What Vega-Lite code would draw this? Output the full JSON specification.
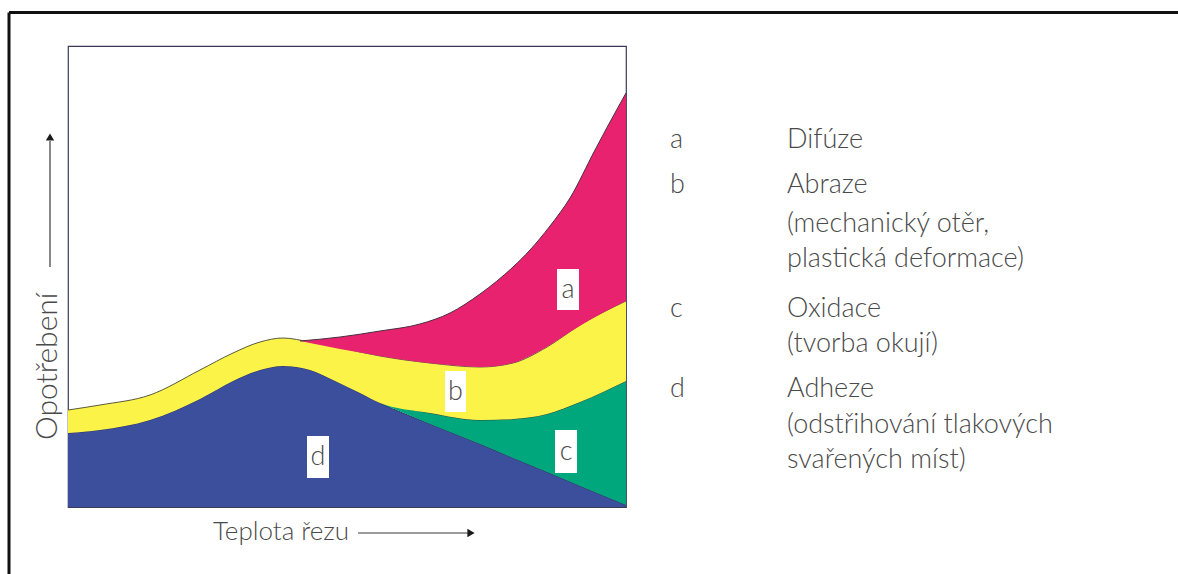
{
  "$schema": "https://vega.github.io/schema/vega-lite/v6.json",
  "width": 558,
  "height": 461,
  "autosize": {"type": "none"},
  "padding": {"left": 68, "top": 46, "right": 552, "bottom": 67},
  "background": "white",
  "config": {"view": {"stroke": "#3a3a55", "strokeWidth": 1.2}},
  "datasets": {
    "d": [
      {"x": 0, "lo": 0, "hi": 74}, {"x": 32, "lo": 0, "hi": 77}, {"x": 82, "lo": 0, "hi": 87},
      {"x": 132, "lo": 0, "hi": 108}, {"x": 165, "lo": 0, "hi": 126}, {"x": 192, "lo": 0, "hi": 137},
      {"x": 215, "lo": 0, "hi": 141}, {"x": 242, "lo": 0, "hi": 137}, {"x": 265, "lo": 0, "hi": 127},
      {"x": 292, "lo": 0, "hi": 114}, {"x": 312, "lo": 0, "hi": 104}, {"x": 362, "lo": 0, "hi": 83},
      {"x": 412, "lo": 0, "hi": 63}, {"x": 445, "lo": 0, "hi": 49}, {"x": 479, "lo": 0, "hi": 35},
      {"x": 512, "lo": 0, "hi": 21}, {"x": 558, "lo": 0, "hi": 2}
    ],
    "c": [
      {"x": 312, "lo": 104, "hi": 104}, {"x": 362, "lo": 83, "hi": 94}, {"x": 412, "lo": 63, "hi": 87},
      {"x": 445, "lo": 49, "hi": 88}, {"x": 479, "lo": 35, "hi": 93}, {"x": 512, "lo": 21, "hi": 105},
      {"x": 558, "lo": 2, "hi": 126}
    ],
    "b": [
      {"x": 0, "lo": 74, "hi": 97}, {"x": 32, "lo": 77, "hi": 102}, {"x": 82, "lo": 87, "hi": 112},
      {"x": 132, "lo": 108, "hi": 137}, {"x": 165, "lo": 126, "hi": 154}, {"x": 192, "lo": 137, "hi": 165},
      {"x": 215, "lo": 141, "hi": 169}, {"x": 242, "lo": 137, "hi": 165}, {"x": 265, "lo": 127, "hi": 161},
      {"x": 292, "lo": 114, "hi": 155}, {"x": 312, "lo": 104, "hi": 151}, {"x": 362, "lo": 94, "hi": 144},
      {"x": 412, "lo": 87, "hi": 140}, {"x": 445, "lo": 88, "hi": 144}, {"x": 479, "lo": 93, "hi": 160},
      {"x": 512, "lo": 105, "hi": 182}, {"x": 558, "lo": 126, "hi": 206}
    ],
    "a": [
      {"x": 232, "lo": 166, "hi": 166}, {"x": 272, "lo": 158, "hi": 170}, {"x": 312, "lo": 151, "hi": 176},
      {"x": 352, "lo": 145, "hi": 183}, {"x": 382, "lo": 142, "hi": 194}, {"x": 412, "lo": 140, "hi": 213},
      {"x": 445, "lo": 144, "hi": 240}, {"x": 462, "lo": 151, "hi": 257}, {"x": 482, "lo": 162, "hi": 281},
      {"x": 502, "lo": 175, "hi": 309}, {"x": 527, "lo": 190, "hi": 357}, {"x": 542, "lo": 198, "hi": 385},
      {"x": 558, "lo": 206, "hi": 414}
    ],
    "boxes": [
      {"k": "a", "x": 489, "x2": 511, "y": 197, "y2": 238, "cx": 500, "cy": 217.5},
      {"k": "b", "x": 377, "x2": 398, "y": 95, "y2": 136, "cx": 387.5, "cy": 115.5},
      {"k": "c", "x": 487, "x2": 509, "y": 34, "y2": 77, "cx": 498, "cy": 55.5},
      {"k": "d", "x": 239, "x2": 261, "y": 29, "y2": 71, "cx": 250, "cy": 50}
    ],
    "legend": [
      {"t": "a", "x": 602, "y": 359}, {"t": "Difúze", "x": 719, "y": 359},
      {"t": "b", "x": 602, "y": 314}, {"t": "Abraze", "x": 719, "y": 314},
      {"t": "(mechanický otěr,", "x": 719, "y": 275},
      {"t": "plastická deformace)", "x": 719, "y": 240},
      {"t": "c", "x": 602, "y": 190}, {"t": "Oxidace", "x": 719, "y": 190},
      {"t": "(tvorba okují)", "x": 719, "y": 155},
      {"t": "d", "x": 602, "y": 110}, {"t": "Adheze", "x": 719, "y": 110},
      {"t": "(odstřihování tlakových", "x": 719, "y": 74},
      {"t": "svařených míst)", "x": 719, "y": 39}
    ],
    "rules": [
      {"x": 290, "x2": 400, "y": -26, "y2": -26},
      {"x": -18, "x2": -18, "y": 240, "y2": 366}
    ],
    "frame": [
      {"x": -59, "x2": 1110, "y": 494.5, "y2": 494.5},
      {"x": -59, "x2": -59, "y": 494.5, "y2": -67}
    ],
    "heads": [
      {"x": 403, "y": -26, "s": "triangle-right"},
      {"x": -18, "y": 370, "s": "triangle-up"}
    ],
    "xtitle": [{"t": "Teplota řezu", "x": 145, "y": -33}],
    "ytitle": [{"t": "Opotřebení", "x": -11, "y": 67}]
  },
  "layer": [
    {
      "data": {"name": "d"},
      "mark": {"type": "area", "interpolate": "monotone", "color": "#3c4f9d", "opacity": 1, "line": {"color": "#2a2f5a", "strokeWidth": 1}},
      "encoding": {
        "x": {"field": "x", "type": "quantitative", "scale": {"domain": [0, 558], "nice": false, "zero": false}, "axis": null},
        "y": {"field": "hi", "type": "quantitative", "scale": {"domain": [0, 461], "nice": false, "zero": false}, "axis": null},
        "y2": {"field": "lo"}
      }
    },
    {
      "data": {"name": "c"},
      "mark": {"type": "area", "interpolate": "monotone", "color": "#00a67c", "opacity": 1, "line": {"color": "#2f4a3a", "strokeWidth": 1}},
      "encoding": {
        "x": {"field": "x", "type": "quantitative", "scale": {"domain": [0, 558], "nice": false, "zero": false}, "axis": null},
        "y": {"field": "hi", "type": "quantitative", "scale": {"domain": [0, 461], "nice": false, "zero": false}, "axis": null},
        "y2": {"field": "lo"}
      }
    },
    {
      "data": {"name": "b"},
      "mark": {"type": "area", "interpolate": "monotone", "color": "#fbf347", "opacity": 1, "line": {"color": "#5a5a40", "strokeWidth": 1}},
      "encoding": {
        "x": {"field": "x", "type": "quantitative", "scale": {"domain": [0, 558], "nice": false, "zero": false}, "axis": null},
        "y": {"field": "hi", "type": "quantitative", "scale": {"domain": [0, 461], "nice": false, "zero": false}, "axis": null},
        "y2": {"field": "lo"}
      }
    },
    {
      "data": {"name": "a"},
      "mark": {"type": "area", "interpolate": "monotone", "color": "#e8226f", "opacity": 1, "line": {"color": "#4a3040", "strokeWidth": 1}},
      "encoding": {
        "x": {"field": "x", "type": "quantitative", "scale": {"domain": [0, 558], "nice": false, "zero": false}, "axis": null},
        "y": {"field": "hi", "type": "quantitative", "scale": {"domain": [0, 461], "nice": false, "zero": false}, "axis": null},
        "y2": {"field": "lo"}
      }
    },
    {
      "data": {"name": "boxes"},
      "mark": {"type": "rect", "color": "white", "opacity": 1},
      "encoding": {
        "x": {"field": "x", "type": "quantitative", "scale": {"domain": [0, 558], "nice": false, "zero": false}, "axis": null},
        "x2": {"field": "x2"},
        "y": {"field": "y", "type": "quantitative", "scale": {"domain": [0, 461], "nice": false, "zero": false}, "axis": null},
        "y2": {"field": "y2"}
      }
    },
    {
      "data": {"name": "boxes"},
      "mark": {"type": "text", "font": "Lato", "fontWeight": 300, "fontSize": 27, "color": "#4a4a4a", "align": "center", "baseline": "middle"},
      "encoding": {
        "x": {"field": "cx", "type": "quantitative", "scale": {"domain": [0, 558], "nice": false, "zero": false}, "axis": null},
        "y": {"field": "cy", "type": "quantitative", "scale": {"domain": [0, 461], "nice": false, "zero": false}, "axis": null},
        "text": {"field": "k"}
      }
    },
    {
      "data": {"name": "legend"},
      "mark": {"type": "text", "font": "Lato", "fontWeight": 300, "fontSize": 27, "color": "#4a4a4a", "align": "left", "baseline": "alphabetic"},
      "encoding": {
        "x": {"field": "x", "type": "quantitative", "scale": {"domain": [0, 558], "nice": false, "zero": false}, "axis": null},
        "y": {"field": "y", "type": "quantitative", "scale": {"domain": [0, 461], "nice": false, "zero": false}, "axis": null},
        "text": {"field": "t"}
      }
    },
    {
      "data": {"name": "xtitle"},
      "mark": {"type": "text", "font": "Lato", "fontWeight": 300, "fontSize": 26, "color": "#4a4a4a", "align": "left", "baseline": "alphabetic"},
      "encoding": {
        "x": {"field": "x", "type": "quantitative", "scale": {"domain": [0, 558], "nice": false, "zero": false}, "axis": null},
        "y": {"field": "y", "type": "quantitative", "scale": {"domain": [0, 461], "nice": false, "zero": false}, "axis": null},
        "text": {"field": "t"}
      }
    },
    {
      "data": {"name": "ytitle"},
      "mark": {"type": "text", "font": "Lato", "fontWeight": 300, "fontSize": 30, "angle": 270, "color": "#4a4a4a", "align": "left", "baseline": "alphabetic"},
      "encoding": {
        "x": {"field": "x", "type": "quantitative", "scale": {"domain": [0, 558], "nice": false, "zero": false}, "axis": null},
        "y": {"field": "y", "type": "quantitative", "scale": {"domain": [0, 461], "nice": false, "zero": false}, "axis": null},
        "text": {"field": "t"}
      }
    },
    {
      "data": {"name": "rules"},
      "mark": {"type": "rule", "color": "#3a3a3a", "strokeWidth": 1.2},
      "encoding": {
        "x": {"field": "x", "type": "quantitative", "scale": {"domain": [0, 558], "nice": false, "zero": false}, "axis": null},
        "x2": {"field": "x2"},
        "y": {"field": "y", "type": "quantitative", "scale": {"domain": [0, 461], "nice": false, "zero": false}, "axis": null},
        "y2": {"field": "y2"}
      }
    },
    {
      "data": {"name": "heads"},
      "mark": {"type": "point", "filled": true, "color": "#1a1a1a", "size": 70, "opacity": 1},
      "encoding": {
        "x": {"field": "x", "type": "quantitative", "scale": {"domain": [0, 558], "nice": false, "zero": false}, "axis": null},
        "y": {"field": "y", "type": "quantitative", "scale": {"domain": [0, 461], "nice": false, "zero": false}, "axis": null},
        "shape": {"field": "s", "type": "nominal", "scale": null}
      }
    },
    {
      "data": {"name": "frame"},
      "mark": {"type": "rule", "color": "#111111", "strokeWidth": 3},
      "encoding": {
        "x": {"field": "x", "type": "quantitative", "scale": {"domain": [0, 558], "nice": false, "zero": false}, "axis": null},
        "x2": {"field": "x2"},
        "y": {"field": "y", "type": "quantitative", "scale": {"domain": [0, 461], "nice": false, "zero": false}, "axis": null},
        "y2": {"field": "y2"}
      }
    }
  ]
}
